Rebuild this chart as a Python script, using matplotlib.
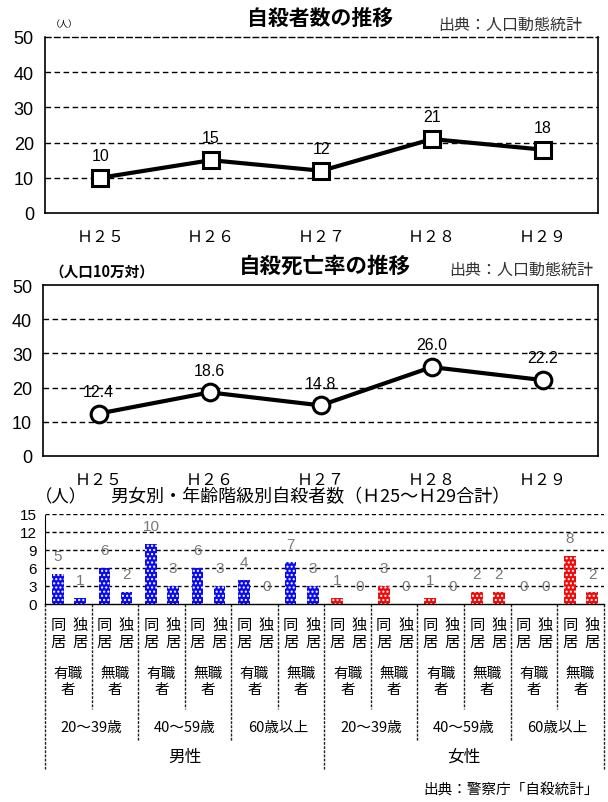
import matplotlib.pyplot as plt
from matplotlib.transforms import blended_transform_factory
from matplotlib.lines import Line2D

plt.rcParams['font.family'] = ['Noto Sans CJK JP', 'DejaVu Sans']

years = ['Ｈ２５', 'Ｈ２６', 'Ｈ２７', 'Ｈ２８', 'Ｈ２９']
suicides = [10, 15, 12, 21, 18]
rates = [12.4, 18.6, 14.8, 26.0, 22.2]

# bottom chart: 男性 then 女性, each age group: 有職者(同居, 独居), 無職者(同居, 独居)
bar_values = [5, 1, 6, 2, 10, 3, 6, 3, 4, 0, 7, 3,
              1, 0, 3, 0, 1, 0, 2, 2, 0, 0, 8, 2]
living = ['同\n居', '独\n居']
jobs = ['有職\n者', '無職\n者']
ages = ['20～39歳', '40～59歳', '60歳以上']
sexes = ['男性', '女性']
sex_colors = ['#0a0af0', '#f00a0a']

fig = plt.figure(figsize=(6.08, 8.03), dpi=100)
num_font = ['Liberation Sans', 'DejaVu Sans']


def line_chart(ax, vals, marker, fmt):
    x = range(len(years))
    ax.plot(x, vals, color='black', lw=3, marker=marker, ms=11 if marker == 's' else 12,
            mfc='white', mec='black', mew=2.2, zorder=3)
    for i, v in enumerate(vals):
        ax.annotate(fmt.format(v), (i, v), xytext=(0, 16), textcoords='offset points',
                    ha='center', va='center', fontsize=11.5, family=num_font)
    ax.set_xlim(-0.5, len(years) - 0.5)
    ax.set_ylim(0, 50)
    ax.set_yticks([0, 10, 20, 30, 40, 50])
    ax.set_yticklabels(['0', '10', '20', '30', '40', '50'], fontsize=13, family=num_font)
    ax.set_xticks(list(x))
    ax.set_xticklabels(years, fontsize=11.5)
    ax.tick_params(length=0, pad=11, axis='x')
    ax.tick_params(length=0, pad=8, axis='y')
    for g in [10, 20, 30, 40]:
        ax.axhline(g, color='black', lw=1, ls=(0, (4, 2.5)), zorder=1)
    for s in ax.spines.values():
        s.set_linewidth(1.2)


ax1 = fig.add_axes([0.074, 0.7335, 0.9095, 0.2192])
line_chart(ax1, suicides, 's', '{:d}')
ax1.spines['top'].set_linestyle((0, (4, 2.5)))
ax1.spines['top'].set_linewidth(1)
fig.text(0.527, 0.977, '自殺者数の推移', ha='center', va='center', fontsize=15, fontweight='bold')
fig.text(0.957, 0.969, '出典：人口動態統計', ha='right', va='center', fontsize=11.5, color='#333333')
fig.text(0.105, 0.97, '（人）', ha='center', va='center', fontsize=6.5)

ax2 = fig.add_axes([0.071, 0.4309, 0.913, 0.2129])
line_chart(ax2, rates, 'o', '{:.1f}')
fig.text(0.535, 0.668, '自殺死亡率の推移', ha='center', va='center', fontsize=15.5, fontweight='bold')
fig.text(0.975, 0.663, '出典：人口動態統計', ha='right', va='center', fontsize=11.5, color='#333333')
fig.text(0.168, 0.662, '（人口10万対）', ha='center', va='center', fontsize=10.5, fontweight='bold')

# bar chart
ax3 = fig.add_axes([0.074, 0.2466, 0.919, 0.1121])
n = len(bar_values)
xs = [(j // 2) * 2 + 0.55 + (j % 2) * 0.95 for j in range(n)]
cols = [sex_colors[j // 12] for j in range(n)]
ax3.bar(xs, bar_values, width=0.5, color=cols, edgecolor='white', lw=0, hatch='....', zorder=2)
for xv, v in zip(xs, bar_values):
    ax3.text(xv, v + 3.0, str(v), ha='center', va='center', fontsize=11, color='#777777',
             family=num_font, zorder=3)
ax3.set_xlim(0, 24)
ax3.set_ylim(0, 15)
ax3.set_yticks([0, 3, 6, 9, 12, 15])
ax3.set_yticklabels(['0', '3', '6', '9', '12', '15'], fontsize=11, family=num_font)
ax3.tick_params(length=0, pad=6)
ax3.set_xticks([])
for g in [3, 6, 9, 12, 15]:
    ax3.axhline(g, color='black', lw=1, ls=(0, (3, 2)), zorder=1)
ax3.spines['top'].set_visible(False)
ax3.spines['right'].set_visible(False)
ax3.spines['left'].set_linestyle((0, (2, 1)))
ax3.spines['bottom'].set_linewidth(1)
fig.text(0.51, 0.381, '男女別・年齢階級別自殺者数（Ｈ25～Ｈ29合計）', ha='center', va='center', fontsize=13)
fig.text(0.1, 0.381, '（人）', ha='center', va='center', fontsize=12.5)

tr = blended_transform_factory(ax3.transData, ax3.transAxes)
for j in range(n):
    ax3.text(xs[j], -0.32, living[j % 2], transform=tr, ha='center', va='center',
             fontsize=11, linespacing=1.0)
for p in range(12):
    ax3.text(p * 2 + 1, -0.86, jobs[p % 2], transform=tr, ha='center', va='center',
             fontsize=10.5, linespacing=1.2)
for a in range(6):
    ax3.text(a * 4 + 2, -1.37, ages[a % 3], transform=tr, ha='center', va='center', fontsize=10.5)
for s in range(2):
    ax3.text(s * 12 + 6, -1.69, sexes[s], transform=tr, ha='center', va='center', fontsize=12)
for b in range(0, 25, 2):
    if b % 12 == 0:
        low = -1.83
    elif b % 4 == 0:
        low = -1.52
    else:
        low = -1.17
    ax3.add_line(Line2D([b, b], [0, low], transform=tr, color='#222222', lw=1,
                        ls=(0, (2, 1)), clip_on=False))

fig.text(0.985, 0.016, '出典：警察庁「自殺統計」', ha='right', va='center', fontsize=10.5)

fig.savefig('out.png', dpi=100)
